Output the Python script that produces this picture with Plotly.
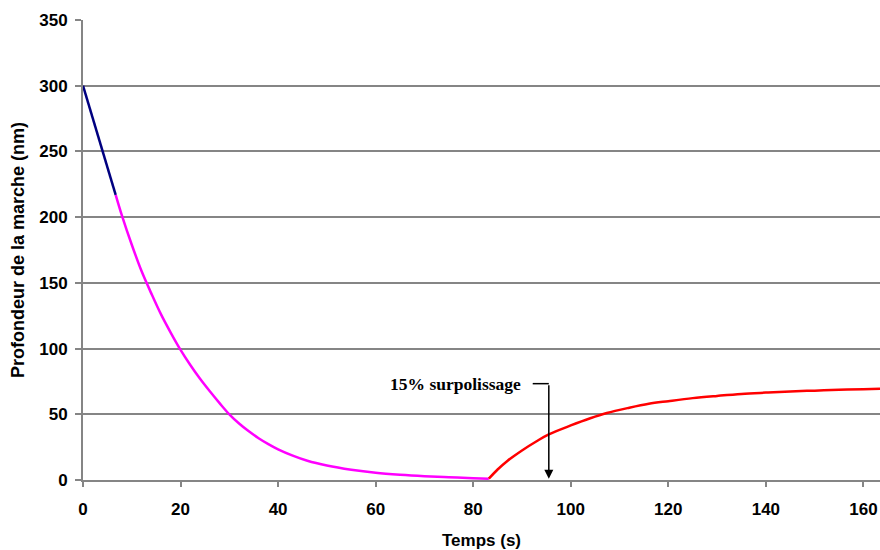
import plotly.graph_objects as go

# --- data ---
t_blue = [0, 6.7]
y_blue = [300, 217]

t_mag = [6.7, 8, 10, 12, 14, 16, 18, 20, 22, 24, 26, 28, 30, 32, 34, 36, 38, 40,
         43, 46, 50, 55, 60, 65, 70, 75, 80, 83.2]
y_mag = [217, 201, 179, 159, 142, 126, 112, 99, 87.5, 77, 67.5, 58.5, 50, 43, 37, 31.8, 27.3, 23.3,
         18.5, 14.6, 11, 7.8, 5.5, 4.0, 2.9, 2.1, 1.4, 1]

t_red = [83.2, 85, 87, 90, 93, 95.5, 100, 104, 107.4, 112, 116, 120, 125, 130, 135, 140, 145, 150, 155, 160, 163.4]
y_red = [1, 8, 14.5, 22.5, 29.5, 34.7, 41.5, 47, 51, 55, 58, 60, 62.3, 64, 65.5, 66.5, 67.4, 68, 68.6, 69.1, 69.5]

x_ticks = [0, 20, 40, 60, 80, 100, 120, 140, 160]
y_ticks = [0, 50, 100, 150, 200, 250, 300, 350]

annot_text = "15% surpolissage"
annot_t = 95.5
annot_y_top = 73.3
annot_y_tip = 1.0
annot_hook_t = 92.2

FONT = "Liberation Sans"
GRID = "#858585"

fig = go.Figure()
fig.add_trace(go.Scatter(x=t_mag, y=y_mag, mode="lines",
                         line=dict(color="#FF00FF", width=2.5, shape="spline", smoothing=1),
                         showlegend=False))
fig.add_trace(go.Scatter(x=t_red, y=y_red, mode="lines",
                         line=dict(color="#FF0000", width=2.5, shape="spline", smoothing=1),
                         showlegend=False))
fig.add_trace(go.Scatter(x=t_blue, y=y_blue, mode="lines",
                         line=dict(color="#000080", width=2.5), showlegend=False))

# annotation: text, hook line and down arrow
fig.add_shape(type="line", x0=annot_hook_t, x1=annot_t, y0=annot_y_top, y1=annot_y_top,
              xref="x", yref="y", line=dict(color="black", width=1.5))
fig.add_annotation(x=annot_t, y=annot_y_tip, ax=annot_t, ay=annot_y_top, xref="x", yref="y",
                   axref="x", ayref="y", text="", showarrow=True, arrowhead=2, arrowsize=1.2,
                   arrowwidth=1.5, arrowcolor="black")
fig.add_annotation(x=annot_hook_t - 2, y=annot_y_top, xref="x", yref="y", text=annot_text,
                   showarrow=False, xanchor="right", yanchor="middle",
                   font=dict(family="Liberation Serif", size=17.5, color="black", weight="bold"))

fig.update_layout(
    width=880, height=550,
    margin=dict(l=83, r=0, t=20, b=70, autoexpand=False),
    paper_bgcolor="white", plot_bgcolor="white",
    font=dict(family=FONT, color="black"),
)
fig.update_xaxes(
    range=[0, 163.4], tickvals=x_ticks, ticktext=[str(v) for v in x_ticks],
    showgrid=False, zeroline=False, showline=True, linecolor=GRID, linewidth=2,
    ticks="outside", ticklen=5, tickwidth=2, tickcolor=GRID, ticklabelstandoff=8,
    tickfont=dict(family=FONT, size=17, weight="bold"),
    title=dict(text="Temps (s)", font=dict(family=FONT, size=17, weight="bold"), standoff=16),
)
fig.update_yaxes(
    range=[0, 350], tickvals=y_ticks, ticktext=[str(v) for v in y_ticks],
    showgrid=True, gridcolor=GRID, gridwidth=1.5, zeroline=False,
    showline=True, linecolor=GRID, linewidth=2,
    ticks="outside", ticklen=6, tickwidth=2, tickcolor=GRID, ticklabelstandoff=4,
    tickfont=dict(family=FONT, size=17, weight="bold"),
    title=dict(text="Profondeur de la marche (nm)", font=dict(family=FONT, size=18, weight="bold"), standoff=10),
)

# remove the page's default body margin so the 880x550 figure fills the window exactly
fig.write_html("out.html",
               config={"displayModeBar": False},
               post_script="document.body.style.margin='0';document.body.style.overflow='hidden';")
